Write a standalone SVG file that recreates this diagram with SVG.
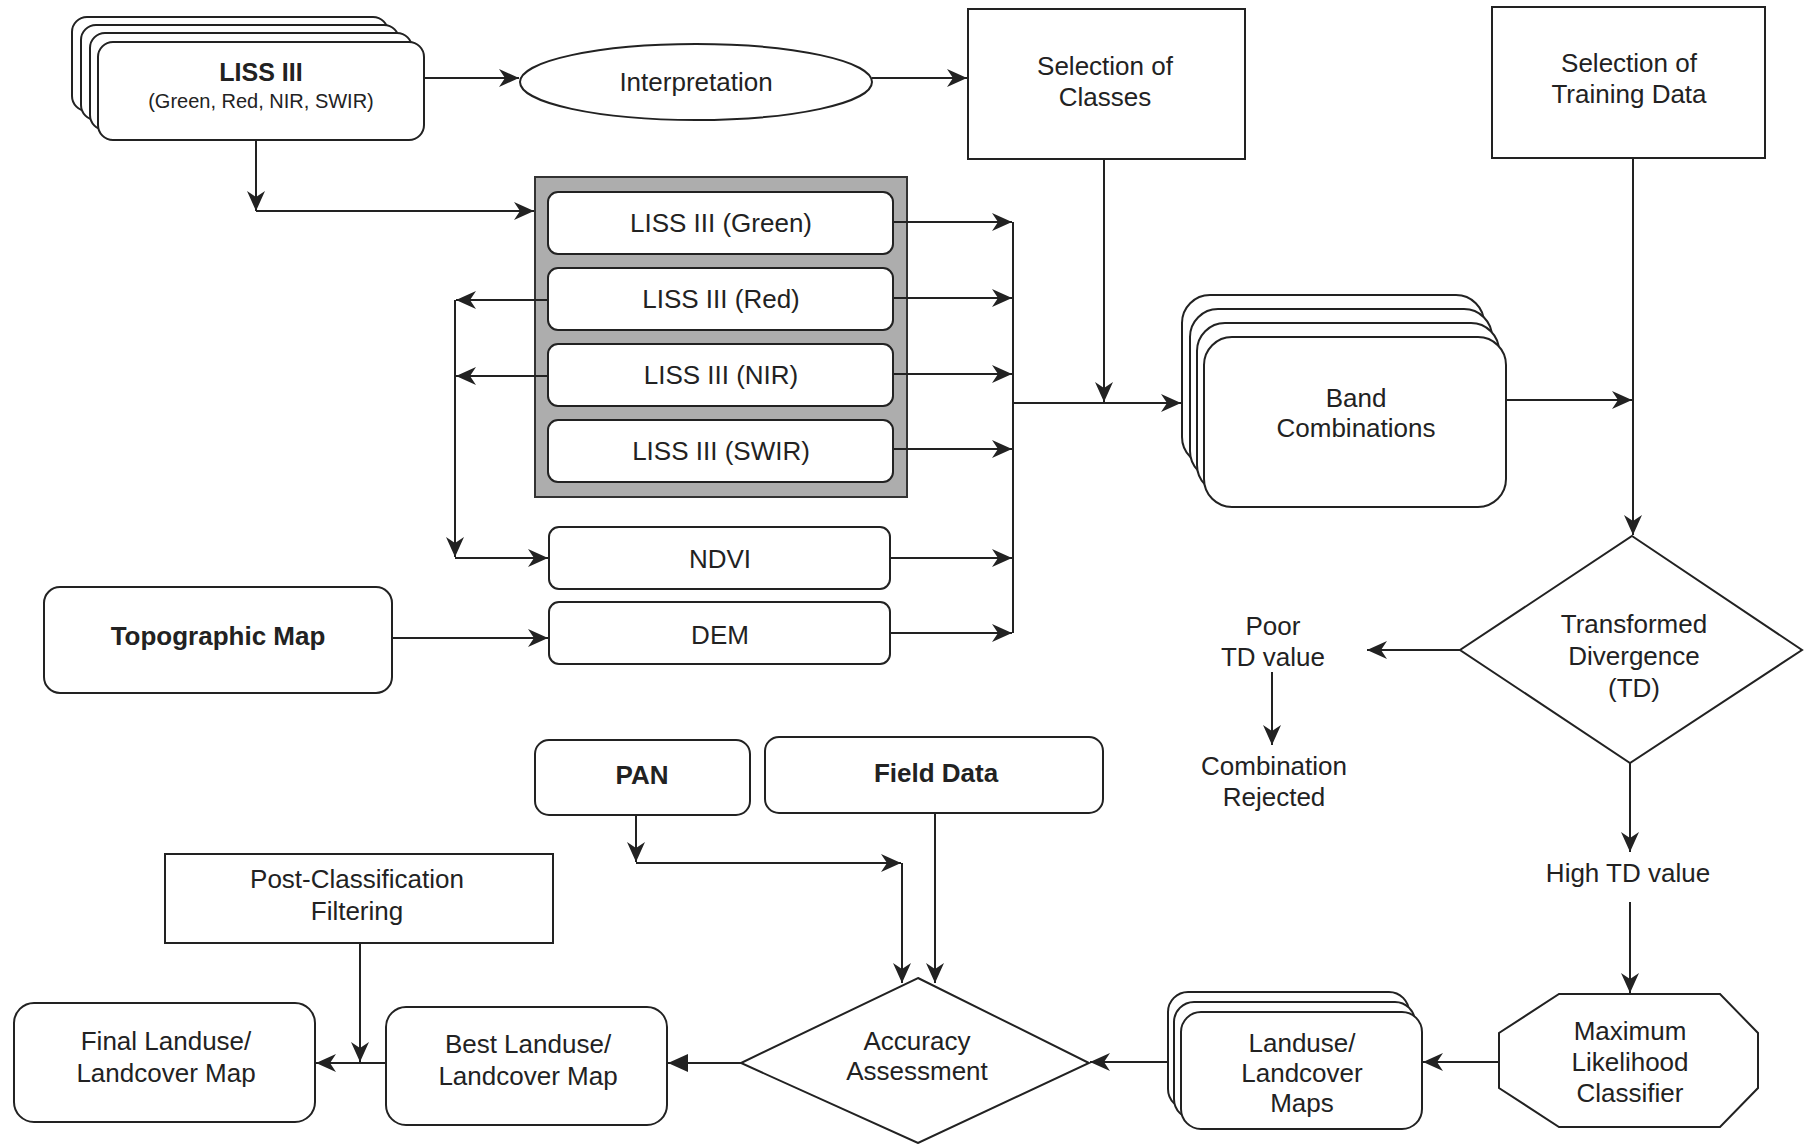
<svg xmlns="http://www.w3.org/2000/svg" width="1804" height="1144" viewBox="0 0 1804 1144">
<style>
.n{fill:#fff;stroke:#222;stroke-width:2}
.t{font-family:"Liberation Sans",Arial,sans-serif;font-size:26px;fill:#222;text-anchor:middle}
.b{font-weight:bold}
.c{fill:none;stroke:#222;stroke-width:2}
</style>
<defs>
<marker id="a" viewBox="0 0 20 18" refX="20" refY="9" markerWidth="20" markerHeight="18" markerUnits="userSpaceOnUse" orient="auto">
<path d="M0,0 L20,9 L0,18 L6,9 Z" fill="#222"/>
</marker>
<marker id="f" viewBox="0 0 20 18" refX="20" refY="9" markerWidth="20" markerHeight="18" markerUnits="userSpaceOnUse" orient="auto">
<path d="M0,0 L20,9 L0,18 Z" fill="#222"/>
</marker>
</defs>
<rect width="1804" height="1144" fill="#fff"/>

<g id="liss3">
<rect class="n" x="72" y="17" width="316" height="94" rx="15"/>
<rect class="n" x="81" y="25" width="318" height="95" rx="15"/>
<rect class="n" x="90" y="33" width="322" height="97" rx="15"/>
<rect class="n" x="98" y="42" width="326" height="98" rx="15"/>
<text class="t b" x="261" y="81" style="font-size:25px">LISS III</text>
<text class="t" x="261" y="108" style="font-size:20px">(Green, Red, NIR, SWIR)</text>
</g>

<g id="interpretation">
<ellipse class="n" cx="696" cy="82" rx="176" ry="38"/>
<text class="t" x="696" y="91">Interpretation</text>
</g>

<g id="classes">
<rect class="n" x="968" y="9" width="277" height="150"/>
<text class="t" x="1105" y="75">Selection of</text>
<text class="t" x="1105" y="106">Classes</text>
</g>

<g id="training">
<rect class="n" x="1492" y="7" width="273" height="151"/>
<text class="t" x="1629" y="72">Selection of</text>
<text class="t" x="1629" y="103">Training Data</text>
</g>

<g id="bands">
<rect x="535" y="177" width="372" height="320" fill="#adadad" stroke="#333" stroke-width="2"/>
<g id="green"><rect class="n" x="548" y="192" width="345" height="62" rx="10" stroke-width="2.5"/><text class="t" x="721" y="232">LISS III (Green)</text></g>
<g id="red"><rect class="n" x="548" y="268" width="345" height="62" rx="10" stroke-width="2.5"/><text class="t" x="721" y="308">LISS III (Red)</text></g>
<g id="nir"><rect class="n" x="548" y="344" width="345" height="62" rx="10" stroke-width="2.5"/><text class="t" x="721" y="384">LISS III (NIR)</text></g>
<g id="swir"><rect class="n" x="548" y="420" width="345" height="62" rx="10" stroke-width="2.5"/><text class="t" x="721" y="460">LISS III (SWIR)</text></g>
</g>

<g id="ndvi">
<rect class="n" x="549" y="527" width="341" height="62" rx="10"/>
<text class="t" x="720" y="568">NDVI</text>
</g>

<g id="dem">
<rect class="n" x="549" y="602" width="341" height="62" rx="10"/>
<text class="t" x="720" y="644">DEM</text>
</g>

<g id="topo">
<rect class="n" x="44" y="587" width="348" height="106" rx="16"/>
<text class="t b" x="218" y="645">Topographic Map</text>
</g>

<g id="bandcomb">
<rect class="n" x="1182" y="295" width="302" height="170" rx="28"/>
<rect class="n" x="1190" y="309" width="302" height="170" rx="28"/>
<rect class="n" x="1197" y="323" width="302" height="170" rx="28"/>
<rect class="n" x="1204" y="337" width="302" height="170" rx="28"/>
<text class="t" x="1356" y="407">Band</text>
<text class="t" x="1356" y="437">Combinations</text>
</g>

<g id="td">
<polygon class="n" points="1632,536 1802,650 1630,763 1460,650"/>
<text class="t" x="1634" y="633">Transformed</text>
<text class="t" x="1634" y="665">Divergence</text>
<text class="t" x="1634" y="697">(TD)</text>
</g>

<g id="poor">
<text class="t" x="1273" y="635">Poor</text>
<text class="t" x="1273" y="666">TD value</text>
</g>

<g id="rejected">
<text class="t" x="1274" y="775">Combination</text>
<text class="t" x="1274" y="806">Rejected</text>
</g>

<g id="high">
<text class="t" x="1628" y="882">High TD value</text>
</g>

<g id="mlc">
<polygon class="n" points="1559,994 1720,994 1758,1033 1758,1088 1720,1127 1559,1127 1499,1088 1499,1033"/>
<text class="t" x="1630" y="1040">Maximum</text>
<text class="t" x="1630" y="1071">Likelihood</text>
<text class="t" x="1630" y="1102">Classifier</text>
</g>

<g id="landuse">
<rect class="n" x="1168" y="992" width="241" height="117" rx="20"/>
<rect class="n" x="1174" y="1002" width="241" height="117" rx="20"/>
<rect class="n" x="1181" y="1012" width="241" height="117" rx="20"/>
<text class="t" x="1302" y="1052">Landuse/</text>
<text class="t" x="1302" y="1082">Landcover</text>
<text class="t" x="1302" y="1112">Maps</text>
</g>

<g id="pan">
<rect class="n" x="535" y="740" width="215" height="75" rx="14"/>
<text class="t b" x="642" y="784">PAN</text>
</g>

<g id="field">
<rect class="n" x="765" y="737" width="338" height="76" rx="14"/>
<text class="t b" x="936" y="782">Field Data</text>
</g>

<g id="accuracy">
<polygon class="n" points="918,978 1089,1063 918,1143 741,1063"/>
<text class="t" x="917" y="1050">Accuracy</text>
<text class="t" x="917" y="1080">Assessment</text>
</g>

<g id="best">
<rect class="n" x="386" y="1007" width="281" height="118" rx="20"/>
<text class="t" x="528" y="1053">Best Landuse/</text>
<text class="t" x="528" y="1085">Landcover Map</text>
</g>

<g id="final">
<rect class="n" x="14" y="1003" width="301" height="119" rx="20"/>
<text class="t" x="166" y="1050">Final Landuse/</text>
<text class="t" x="166" y="1082">Landcover Map</text>
</g>

<g id="postclass">
<rect class="n" x="165" y="854" width="388" height="89"/>
<text class="t" x="357" y="888">Post-Classification</text>
<text class="t" x="357" y="920">Filtering</text>
</g>

<g id="connectors" class="c">
<path d="M424,78 H519" marker-end="url(#a)"/>
<path d="M872,78 H967" marker-end="url(#a)"/>
<path d="M256,140 V211" marker-end="url(#a)"/>
<path d="M256,211 H534" marker-end="url(#a)"/>
<path d="M893,222 H1012" marker-end="url(#a)"/>
<path d="M893,298 H1012" marker-end="url(#a)"/>
<path d="M893,374 H1012" marker-end="url(#a)"/>
<path d="M893,449 H1012" marker-end="url(#a)"/>
<path d="M890,558 H1012" marker-end="url(#a)"/>
<path d="M890,633 H1012" marker-end="url(#a)"/>
<path d="M1013,222 V633"/>
<path d="M1013,403 H1181" marker-end="url(#a)"/>
<path d="M1104,159 V402" marker-end="url(#a)"/>
<path d="M549,300 H456" marker-end="url(#a)"/>
<path d="M549,376 H456" marker-end="url(#a)"/>
<path d="M455,300 V557" marker-end="url(#a)"/>
<path d="M455,558 H548" marker-end="url(#a)"/>
<path d="M392,638 H548" marker-end="url(#a)"/>
<path d="M1506,400 H1632" marker-end="url(#a)"/>
<path d="M1633,158 V535" marker-end="url(#a)"/>
<path d="M1460,650 H1367" marker-end="url(#a)"/>
<path d="M1272,672 V745" marker-end="url(#a)"/>
<path d="M1630,763 V852" marker-end="url(#a)"/>
<path d="M1630,902 V993" marker-end="url(#a)"/>
<path d="M1499,1062 H1423" marker-end="url(#a)"/>
<path d="M1168,1062 H1090" marker-end="url(#a)"/>
<path d="M741,1063 H668" marker-end="url(#f)"/>
<path d="M386,1063 H316" marker-end="url(#a)"/>
<path d="M360,943 V1062" marker-end="url(#a)"/>
<path d="M636,815 V862" marker-end="url(#a)"/>
<path d="M636,863 H901" marker-end="url(#a)"/>
<path d="M902,863 V983" marker-end="url(#a)"/>
<path d="M935,813 V983" marker-end="url(#a)"/>
</g>
</svg>
